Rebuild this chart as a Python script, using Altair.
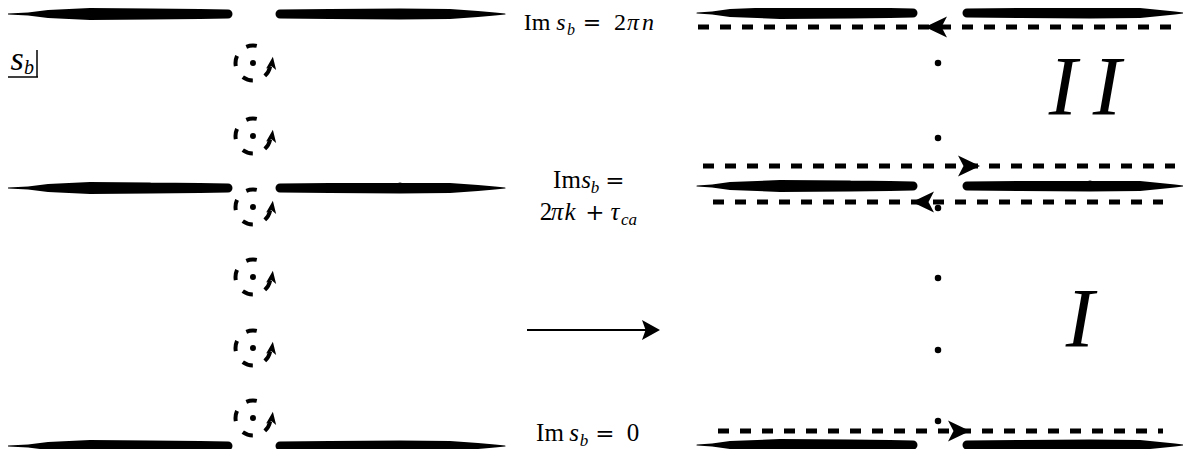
import altair as alt
import pandas as pd

# ---------------- diagram data (page-pixel units) ----------------
# branch cuts: vertical level of each cut, and the x / width profile of its two halves
cut_y_left = [14, 188, 446]
cut_y_right = [13, 186, 445]
cut_west_x_left = [8, 28, 48, 90, 150, 200, 228]
cut_east_x_left = [280, 330, 400, 450, 478, 495, 505]
cut_west_x_right = [697, 712, 730, 780, 850, 890, 913]
cut_east_x_right = [967, 1020, 1090, 1140, 1160, 1175, 1183]
cut_west_w = [1, 3, 8, 12, 11, 10, 9]
cut_east_w = [9, 10, 11, 10, 6, 3, 1]

# poles (left: encircled, right: bare dots)
pole_x_left = 253
pole_y_left = [63, 136, 207, 277, 348, 418]
pole_x_right = 938
pole_y_right = [63, 138, 208, 278, 350, 421]

# deformed integration contours on the right
contour_x0 = [698, 703, 713, 718]
contour_x1 = [1182, 1175, 1163, 1163]
contour_y = [27, 166, 202, 431]
contour_dir = ["left", "right", "left", "right"]
contour_head_x = [936, 969, 923, 959]

# text pieces: text, x (centre), baseline y, font size
upright_text = ["Im", "2", "Im", "2", "Im", "0"]
upright_x = [537, 620, 567, 546, 550, 633]
upright_y = [30, 30, 188, 220, 441, 441]
upright_s = [24, 24, 25, 25, 25, 25]

symbol_text = ["=", "=", "+", "="]
symbol_x = [592, 615, 595, 605]
symbol_y = [30, 188, 220, 441]
symbol_s = [22, 23, 23, 23]

italic_text = ["s", "b", "π", "n", "s", "b", "π", "k", "τ", "ca", "s", "b",
               "s", "b", "I", "I", "I"]
italic_x = [561, 571, 633, 648, 586, 595, 557, 570, 615, 629, 574, 584,
            17, 29, 1063, 1107, 1080]
italic_y = [30, 35, 30, 30, 188, 193, 220, 220, 220, 225, 441, 446,
            70, 74, 115, 115, 347]
italic_s = [24, 16, 24, 24, 25, 17, 25, 25, 25, 17, 25, 17,
            34, 20, 85, 85, 85]

# s_b corner box and the mapping arrow
box_x0 = [37, 8]
box_y0 = [50, 77]
box_x1 = [37, 38]
box_y1 = [77, 77]
map_arrow_x0 = [527]
map_arrow_x1 = [648]
map_arrow_y = [330]
map_head_x = [651]

# ---------------- tables ----------------
rows = []
for panel, levels, wx, ex in [("L", cut_y_left, cut_west_x_left, cut_east_x_left),
                              ("R", cut_y_right, cut_west_x_right, cut_east_x_right)]:
    for i, y in enumerate(levels):
        for x, w in zip(wx, cut_west_w):
            rows.append({"seg": f"{panel}{i}w", "x": x, "y": y, "w": w})
        for x, w in zip(ex, cut_east_w):
            rows.append({"seg": f"{panel}{i}e", "x": x, "y": y, "w": w})
cuts = pd.DataFrame(rows)

poles_l = pd.DataFrame({"x": [pole_x_left] * len(pole_y_left), "y": pole_y_left})
poles_r = pd.DataFrame({"x": [pole_x_right] * len(pole_y_right), "y": pole_y_right})
contours = pd.DataFrame({"x": contour_x0, "x1": contour_x1, "y": contour_y,
                         "dir": contour_dir, "hx": contour_head_x})
up = pd.DataFrame({"t": upright_text, "x": upright_x, "y": upright_y, "s": upright_s})
sym = pd.DataFrame({"t": symbol_text, "x": symbol_x, "y": symbol_y, "s": symbol_s})
it = pd.DataFrame({"t": italic_text, "x": italic_x, "y": italic_y, "s": italic_s})
box = pd.DataFrame({"x": box_x0, "y": box_y0, "x1": box_x1, "y1": box_y1})
marrow = pd.DataFrame({"x": map_arrow_x0, "x1": map_arrow_x1, "y": map_arrow_y, "hx": map_head_x})

xs = alt.Scale(domain=[8, 1183], range=[0, 1175], nice=False, zero=False)
ys = alt.Scale(domain=[8, 449], range=[0, 441], nice=False, zero=False)


def X(f):
    return alt.X(f, type="quantitative", scale=xs, axis=None)


def Y(f):
    return alt.Y(f, type="quantitative", scale=ys, axis=None)


K = "black"
STEALTH_LEFT = "M-1,0L1,-0.95L0.5,0L1,0.95Z"
STEALTH_RIGHT = "M1,0L-1,-0.95L-0.5,0L-1,0.95Z"
STEALTH_UP = "M0,-1L0.8,1L0,0.5L-0.8,1Z"

cut_layer = alt.Chart(cuts).mark_trail(color=K).encode(
    x=X("x"), y=Y("y"), size=alt.Size("w:Q", scale=None), detail="seg:N")

circle_layer = alt.Chart(poles_l).mark_point(
    shape="circle", filled=False, size=1225, strokeWidth=4, color=K, opacity=1,
    strokeDash=[10.7, 13.1, 10.7, 13.1, 10.7, 13.1, 10.7, 27.9], strokeDashOffset=106.3,
    strokeCap="butt").encode(x=X("x"), y=Y("y"))
circle_head = alt.Chart(poles_l).mark_point(
    shape=STEALTH_UP, filled=True, size=160, color=K, opacity=1, xOffset=19, yOffset=0,
    angle=8).encode(x=X("x"), y=Y("y"))
left_dots = alt.Chart(poles_l).mark_point(
    shape="circle", filled=True, size=36, color=K, opacity=1).encode(x=X("x"), y=Y("y"))
right_dots = alt.Chart(poles_r).mark_point(
    shape="circle", filled=True, size=42, color=K, opacity=1).encode(x=X("x"), y=Y("y"))

contour_lines = alt.Chart(contours).mark_rule(
    color=K, strokeWidth=5, strokeDash=[11, 11], strokeCap="butt").encode(
    x=X("x"), x2="x1:Q", y=Y("y"))
head_l = alt.Chart(contours).transform_filter(alt.datum.dir == "left").mark_point(
    shape=STEALTH_LEFT, filled=True, size=484, color=K, opacity=1).encode(x=X("hx"), y=Y("y"))
head_r = alt.Chart(contours).transform_filter(alt.datum.dir == "right").mark_point(
    shape=STEALTH_RIGHT, filled=True, size=484, color=K, opacity=1).encode(x=X("hx"), y=Y("y"))

box_layer = alt.Chart(box).mark_rule(color=K, strokeWidth=1.5).encode(
    x=X("x"), y=Y("y"), x2="x1:Q", y2="y1:Q")
map_line = alt.Chart(marrow).mark_rule(color=K, strokeWidth=2).encode(
    x=X("x"), x2="x1:Q", y=Y("y"))
map_head = alt.Chart(marrow).mark_point(
    shape="M1,0L-1,-1.1L-0.6,0L-1,1.1Z", filled=True, size=324, color=K, opacity=1).encode(
    x=X("hx"), y=Y("y"))

txt_up = alt.Chart(up).mark_text(
    font="Liberation Serif", align="center", baseline="alphabetic", color=K).encode(
    x=X("x"), y=Y("y"), text="t:N", size=alt.Size("s:Q", scale=None))
txt_sym = alt.Chart(sym).mark_text(
    font="DejaVu Serif", align="center", baseline="alphabetic", color=K,
    fontWeight=300).encode(
    x=X("x"), y=Y("y"), text="t:N", size=alt.Size("s:Q", scale=None))
txt_it = alt.Chart(it).mark_text(
    font="Liberation Serif", fontStyle="italic", align="center", baseline="alphabetic",
    color=K).encode(x=X("x"), y=Y("y"), text="t:N", size=alt.Size("s:Q", scale=None))

chart = alt.layer(
    cut_layer, contour_lines, head_l, head_r, circle_layer, circle_head, left_dots,
    right_dots, box_layer, map_line, map_head, txt_up, txt_sym, txt_it
).properties(
    width=1175, height=441, padding=0, autosize=alt.AutoSizeParams(type="none"),
    background="white"
).configure_view(stroke=None)

chart.save("out.html", embed_options={"renderer": "svg", "actions": False})
